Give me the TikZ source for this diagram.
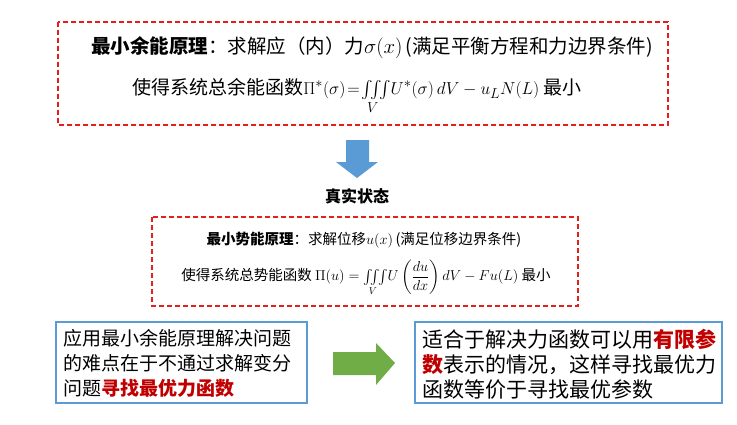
\documentclass[tikz,border=0pt]{standalone}
\usepackage{amsmath}
\usepackage{fontspec}
\setmainfont{Noto Sans CJK SC}
\usepackage{tikz}
\usetikzlibrary{positioning}
\definecolor{boxred}{RGB}{230,30,30}
\definecolor{boxblue}{RGB}{91,155,213}
\definecolor{arrgreen}{RGB}{112,173,71}
\definecolor{txtred}{RGB}{192,0,0}
\newcommand{\tred}[1]{\textcolor{txtred}{\textbf{#1}}}
\tikzstyle{redbox} = [draw=boxred, line width=1.2pt, dash pattern=on 5pt off 3pt]
\tikzstyle{bluebox} = [draw=boxblue, line width=1.2pt, fill=white,
    align=left, inner sep=0pt]

\begin{document}
\begin{tikzpicture}[x=1pt, y=-1pt]
  \useasboundingbox (0,0) rectangle (737,424);
  % top box
  \draw[redbox] (58,22) rectangle (668,125);
  \node[font=\fontsize{19.5}{22}\selectfont] (top1) at (372,48)
    {\textbf{最小余能原理}：求解应（内）力$\sigma(x)$\,(满足平衡方程和力边界条件)};
  \node[font=\fontsize{19}{22}\selectfont] (top2) at (357,96)
    {使得系统总余能函数$\Pi^{*}(\sigma)\!=\!\iiint\limits_{V}\!U^{*}(\sigma)\,dV-u_{L}N(L)$ 最小};
  % arrow down
  \fill[boxblue] (346,140) -- (369,140) -- (369,162) -- (378,162) -- (357,178)
    -- (336,162) -- (346,162) -- cycle;
  \node[font=\fontsize{16}{18}\selectfont\bfseries] (state) at (357,196) {真实状态};
  % middle box
  \draw[redbox] (152,217) rectangle (578,306);
  \node[font=\fontsize{14.5}{16}\selectfont] (mid1) at (364,240)
    {\textbf{最小势能原理}：求解位移$u(x)$\,(满足位移边界条件)};
  \node[font=\fontsize{14.5}{16}\selectfont] (mid2) at (366,278)
    {使得系统总势能函数 $\Pi(u)=\iiint\limits_{V}\!U\left(\dfrac{du}{dx}\right)dV-Fu(L)$ 最小};
  % bottom boxes
  \draw[bluebox] (56,322) rectangle (307,403);
  \node[font=\fontsize{19}{25}\selectfont, align=left, anchor=north west] (left) at (60,326)
    {应用最小余能原理解决问题\\的难点在于不通过求解变分\\问题\tred{寻找最优力函数}};
  \draw[bluebox] (415,322) rectangle (722,403);
  \node[font=\fontsize{21}{25}\selectfont, align=left, anchor=north west] (right) at (419,326)
    {适合于解决力函数可以用\tred{有限参}\\\tred{数}表示的情况，这样寻找最优力\\函数等价于寻找最优参数};
  % arrow right
  \fill[arrgreen] (333,352) -- (376,352) -- (376,343) -- (395,363) -- (376,385)
    -- (376,375) -- (333,375) -- cycle;
\end{tikzpicture}
\end{document}
